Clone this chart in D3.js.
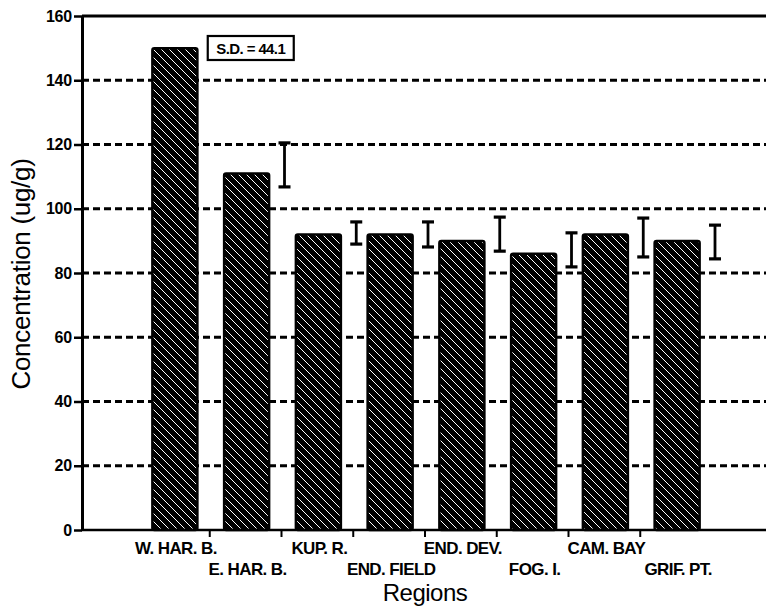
<!DOCTYPE html>
<html><head><meta charset="utf-8">
<script src="https://cdn.jsdelivr.net/npm/d3@7"></script>
<style>body{margin:0;background:#fff} svg{display:block}</style>
</head><body><svg id="c" width="766" height="609"></svg>
<script>
const categories = ["W. HAR. B.","E. HAR. B.","KUP. R.","END. FIELD","END. DEV.","FOG. I.","CAM. BAY","GRIF. PT."];
const concentration = [150,111,92,92,90,86,92,90];
const sdLow  = [null,106.8,89.0,88.1,86.8,81.9,85.0,84.4];
const sdHigh = [null,120.5,95.9,95.9,97.4,92.5,97.1,94.9];
const yTicks = [0,20,40,60,80,100,120,140,160];
const gridTicks = [20,40,60,80,100,120,140];
const sdNote = "S.D. = 44.1";
const yTitle = "Concentration (ug/g)";
const xTitle = "Regions";

const W = 766, H = 609;
const plotL = 82, plotR = 766, plotT = 16, plotB = 530;
const FONT = "'Liberation Sans', Arial, Helvetica, sans-serif";

const svg = d3.select("#c");
const y = d3.scaleLinear().domain([0,160]).range([plotB, plotT]);
const x = d3.scaleBand().domain(categories).range([138, 712]).paddingInner(0).paddingOuter(0);
const step = x.step();
const barW = 45;

// hatch pattern
const defs = svg.append("defs");
const pat = defs.append("pattern").attr("id","hatch").attr("patternUnits","userSpaceOnUse")
  .attr("width",8).attr("height",8);
pat.append("rect").attr("width",8).attr("height",8).attr("fill","#000");
pat.append("path").attr("d","M-2,-2 L10,10 M-2,6 L2,10 M6,-2 L10,2")
  .attr("stroke","#fff").attr("stroke-width",1);

// grid
svg.append("g").selectAll("line").data(gridTicks).join("line")
  .attr("x1",plotL).attr("x2",plotR).attr("y1",d=>y(d)).attr("y2",d=>y(d))
  .attr("stroke","#000").attr("stroke-width",2.8).attr("stroke-dasharray","7,4");

// top border
svg.append("line").attr("x1",plotL).attr("x2",plotR).attr("y1",plotT).attr("y2",plotT)
  .attr("stroke","#000").attr("stroke-width",3);

// bars
svg.append("g").selectAll("rect").data(categories).join("rect")
  .attr("x",d=>x(d)+(step-barW)/2+1)
  .attr("y",(d,i)=>y(concentration[i]))
  .attr("width",barW)
  .attr("height",(d,i)=>y(0)-y(concentration[i]))
  .attr("rx",2)
  .attr("fill","url(#hatch)").attr("stroke","#000").attr("stroke-width",2.5);

// error bars
const eb = svg.append("g").attr("stroke","#000").attr("stroke-width",2.8);
categories.forEach((c,i)=>{
  if (sdLow[i]==null) return;
  const cx = x(c) + step + 3;
  eb.append("line").attr("x1",cx).attr("x2",cx).attr("y1",y(sdHigh[i])).attr("y2",y(sdLow[i]));
  eb.append("line").attr("x1",cx-6).attr("x2",cx+6).attr("y1",y(sdHigh[i])).attr("y2",y(sdHigh[i])).attr("stroke-width",3.2);
  eb.append("line").attr("x1",cx-6).attr("x2",cx+6).attr("y1",y(sdLow[i])).attr("y2",y(sdLow[i])).attr("stroke-width",3.2);
});

// SD note box
const bx = x(categories[0]) + step - 2;
svg.append("rect").attr("x",bx).attr("y",36).attr("width",86).attr("height",24)
  .attr("fill","#fff").attr("stroke","#000").attr("stroke-width",2.2);
svg.append("text").attr("x",bx+43).attr("y",54).attr("text-anchor","middle")
  .attr("font-family",FONT).attr("font-weight","bold").attr("font-size",15)
  .attr("letter-spacing","-0.6").text(sdNote);

// y axis
const ya = svg.append("g").attr("transform",`translate(${plotL},0)`)
  .call(d3.axisLeft(y).tickValues(yTicks).tickSize(8).tickSizeOuter(0).tickPadding(2));
ya.select(".domain").attr("stroke-width",3);
ya.selectAll(".tick line").attr("stroke-width",2.5);
ya.selectAll(".tick text").attr("font-family",FONT).attr("font-size",16).attr("font-weight","bold")
  .attr("letter-spacing","-0.2").attr("fill","#000");

// x axis
svg.append("line").attr("x1",plotL-1).attr("x2",plotR).attr("y1",plotB).attr("y2",plotB)
  .attr("stroke","#000").attr("stroke-width",2.5);
svg.append("g").selectAll("line").data(categories.slice(1)).join("line")
  .attr("x1",d=>x(d)).attr("x2",d=>x(d)).attr("y1",plotB).attr("y2",plotB+7)
  .attr("stroke","#000").attr("stroke-width",2);
svg.append("g").selectAll("text").data(categories).join("text")
  .attr("x",d=>x(d)+step/2+2)
  .attr("y",(d,i)=> i%2===0 ? 554 : 575)
  .attr("text-anchor","middle")
  .attr("font-family",FONT).attr("font-size",17).attr("font-weight","bold")
  .attr("letter-spacing","-0.6")
  .text(d=>d);

// titles
svg.append("text").attr("transform",`translate(30,${(plotT+plotB)/2+1}) rotate(-90)`)
  .attr("text-anchor","middle").attr("font-family",FONT).attr("font-size",26)
  .attr("letter-spacing","-0.3").text(yTitle);
svg.append("text").attr("x",425).attr("y",601).attr("text-anchor","middle")
  .attr("font-family",FONT).attr("font-size",24).attr("letter-spacing","-0.5").text(xTitle);
</script></body></html>
